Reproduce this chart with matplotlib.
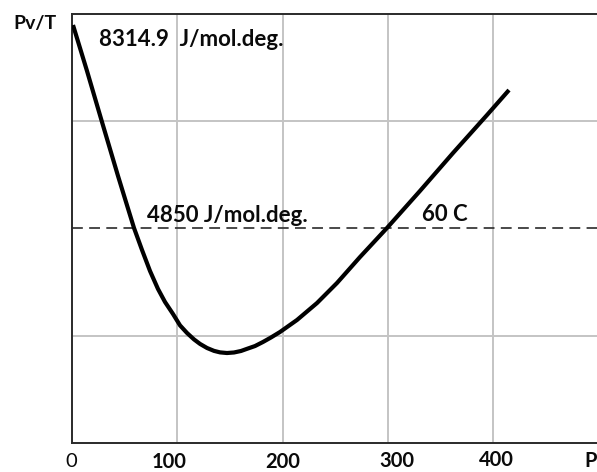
import matplotlib
matplotlib.use("Agg")
import matplotlib.pyplot as plt

# Data (arbitrary Pv/T units, grid step = 1)
pressure = [0.95, 14.25, 28.5, 43.71, 51.31, 58.91, 66.51, 74.11, 81.71, 88.36, 95.96,
            102.61, 109.26, 115.91, 121.62, 128.27, 134.92, 140.62, 147.27, 153.92,
            160.57, 166.27, 173.87, 181.47, 189.07, 197.62,
            213.78, 232.78, 251.78, 273.63, 299.29, 330.6, 362.0, 394.3, 415.2]
pv_over_t = [3.897, 3.469, 2.993, 2.490, 2.247, 2.005, 1.800, 1.604, 1.436, 1.315, 1.203,
             1.097, 1.026, 0.966, 0.924, 0.886, 0.859, 0.845, 0.839, 0.844,
             0.858, 0.878, 0.904, 0.942, 0.984, 1.035,
             1.147, 1.305, 1.492, 1.734, 2.005, 2.350, 2.704, 3.058, 3.291]
ideal_level = 2.0
x_ticks = [100, 200, 300, 400]
y_grid = [1, 3]
x_tick_labels = ["0", "100", "200", "300", "400"]
x_label = "P"
y_label = "Pv/T"
top_note = "8314.9  J/mol.deg."
mid_note = "4850 J/mol.deg."
temp_note = "60 C"

W, H = 597, 472
fig = plt.figure(figsize=(W / 100, H / 100), dpi=100)
ax = fig.add_axes([72 / W, (H - 443) / H, (W - 72) / W, (443 - 14) / H])
ax.set_xlim(0, (W - 72) / 1.0525)
ax.set_ylim(0, 4)

FONT = "Lato"
TXT = "#0a0a0a"

ax.set_xticks(x_ticks)
ax.set_yticks(y_grid)
ax.tick_params(length=0, labelbottom=False, labelleft=False)
ax.grid(True, color="#c4c4c4", linewidth=1.4)
ax.set_axisbelow(True)

ax.axhline(ideal_level, color="#3a3a3a", linewidth=1.3, linestyle=(0, (6, 3.5)), zorder=2)
ax.plot(pressure, pv_over_t, color="black", linewidth=3.0, zorder=3,
        solid_capstyle="butt", solid_joinstyle="round")

for side in ["left", "bottom", "top"]:
    ax.spines[side].set_color("#2a2a2a")
    ax.spines[side].set_linewidth(1.4)
ax.spines["right"].set_visible(False)


def px(x):
    return x / W


def py(y):
    return 1 - y / H


fs_note = 16
fs_tick = 14.5
# y-axis label
fig.text(px(13), py(29), y_label, fontsize=14, fontweight="bold", family=FONT,
         color=TXT, ha="left", va="baseline")
# x tick labels
tick_centers = [71.5, 169, 283, 397, 496]
tick_base = [467, 467.5, 467.5, 467, 466]
for lab, cx, by in zip(x_tick_labels, tick_centers, tick_base):
    fig.text(px(cx), py(by), lab, fontsize=fs_tick, family=FONT, color=TXT,
             fontweight="normal" if lab == "0" else "bold", ha="center", va="baseline")
fig.text(px(584), py(467), x_label, fontsize=fs_tick, fontweight="bold", family=FONT,
         color=TXT, ha="left", va="baseline")

# annotations
ax.text((99 - 72) / 1.0525, (443 - 46) / 107.25, top_note, fontsize=fs_note,
        fontweight="bold", family=FONT, color=TXT, ha="left", va="baseline")
ax.text((147 - 72) / 1.0525, (443 - 222) / 107.25, mid_note, fontsize=fs_note,
        fontweight="bold", family=FONT, color=TXT, ha="left", va="baseline")
ax.text((422 - 72) / 1.0525, (443 - 221) / 107.25, temp_note, fontsize=fs_note,
        fontweight="bold", family=FONT, color=TXT, ha="left", va="baseline")

fig.savefig("out.png", dpi=100)
